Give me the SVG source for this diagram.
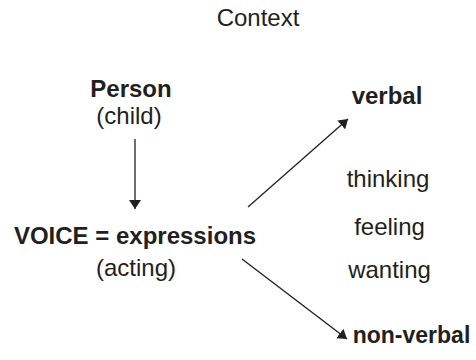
<svg xmlns="http://www.w3.org/2000/svg" width="476" height="360" viewBox="0 0 476 360">
<style>
text{font-family:"Liberation Sans",Arial,Helvetica,sans-serif;font-size:24px;fill:#231f20;text-anchor:middle}
.b{font-weight:bold}
.c{stroke:#231f20;stroke-width:1.3;fill:none}
</style>
<defs>
<marker id="ah" viewBox="0 0 9 12" refX="9" refY="6" markerWidth="9" markerHeight="12" markerUnits="userSpaceOnUse" orient="auto">
<path d="M0,0 L9,6 L0,12 z" fill="#231f20"/>
</marker>
</defs>
<rect width="476" height="360" fill="#fff"/>
<g id="context"><text x="258" y="26">Context</text></g>
<g id="person"><text class="b" x="131" y="97">Person</text><text x="129" y="124">(child)</text></g>
<g id="voice"><text class="b" x="135" y="244">VOICE = expressions</text><text x="136" y="276">(acting)</text></g>
<g id="verbal"><text class="b" x="387" y="104">verbal</text></g>
<g id="states"><text x="388" y="187">thinking</text><text x="389.5" y="235">feeling</text><text x="389.5" y="278">wanting</text></g>
<g id="nonverbal"><text class="b" x="411.5" y="343" style="font-size:23px">non-verbal</text></g>
<g id="connectors">
<line class="c" x1="135" y1="139" x2="135" y2="209" marker-end="url(#ah)"/>
<line class="c" x1="248" y1="207" x2="348" y2="119" marker-end="url(#ah)"/>
<line class="c" x1="242" y1="259" x2="347" y2="339" marker-end="url(#ah)"/>
</g>
</svg>
